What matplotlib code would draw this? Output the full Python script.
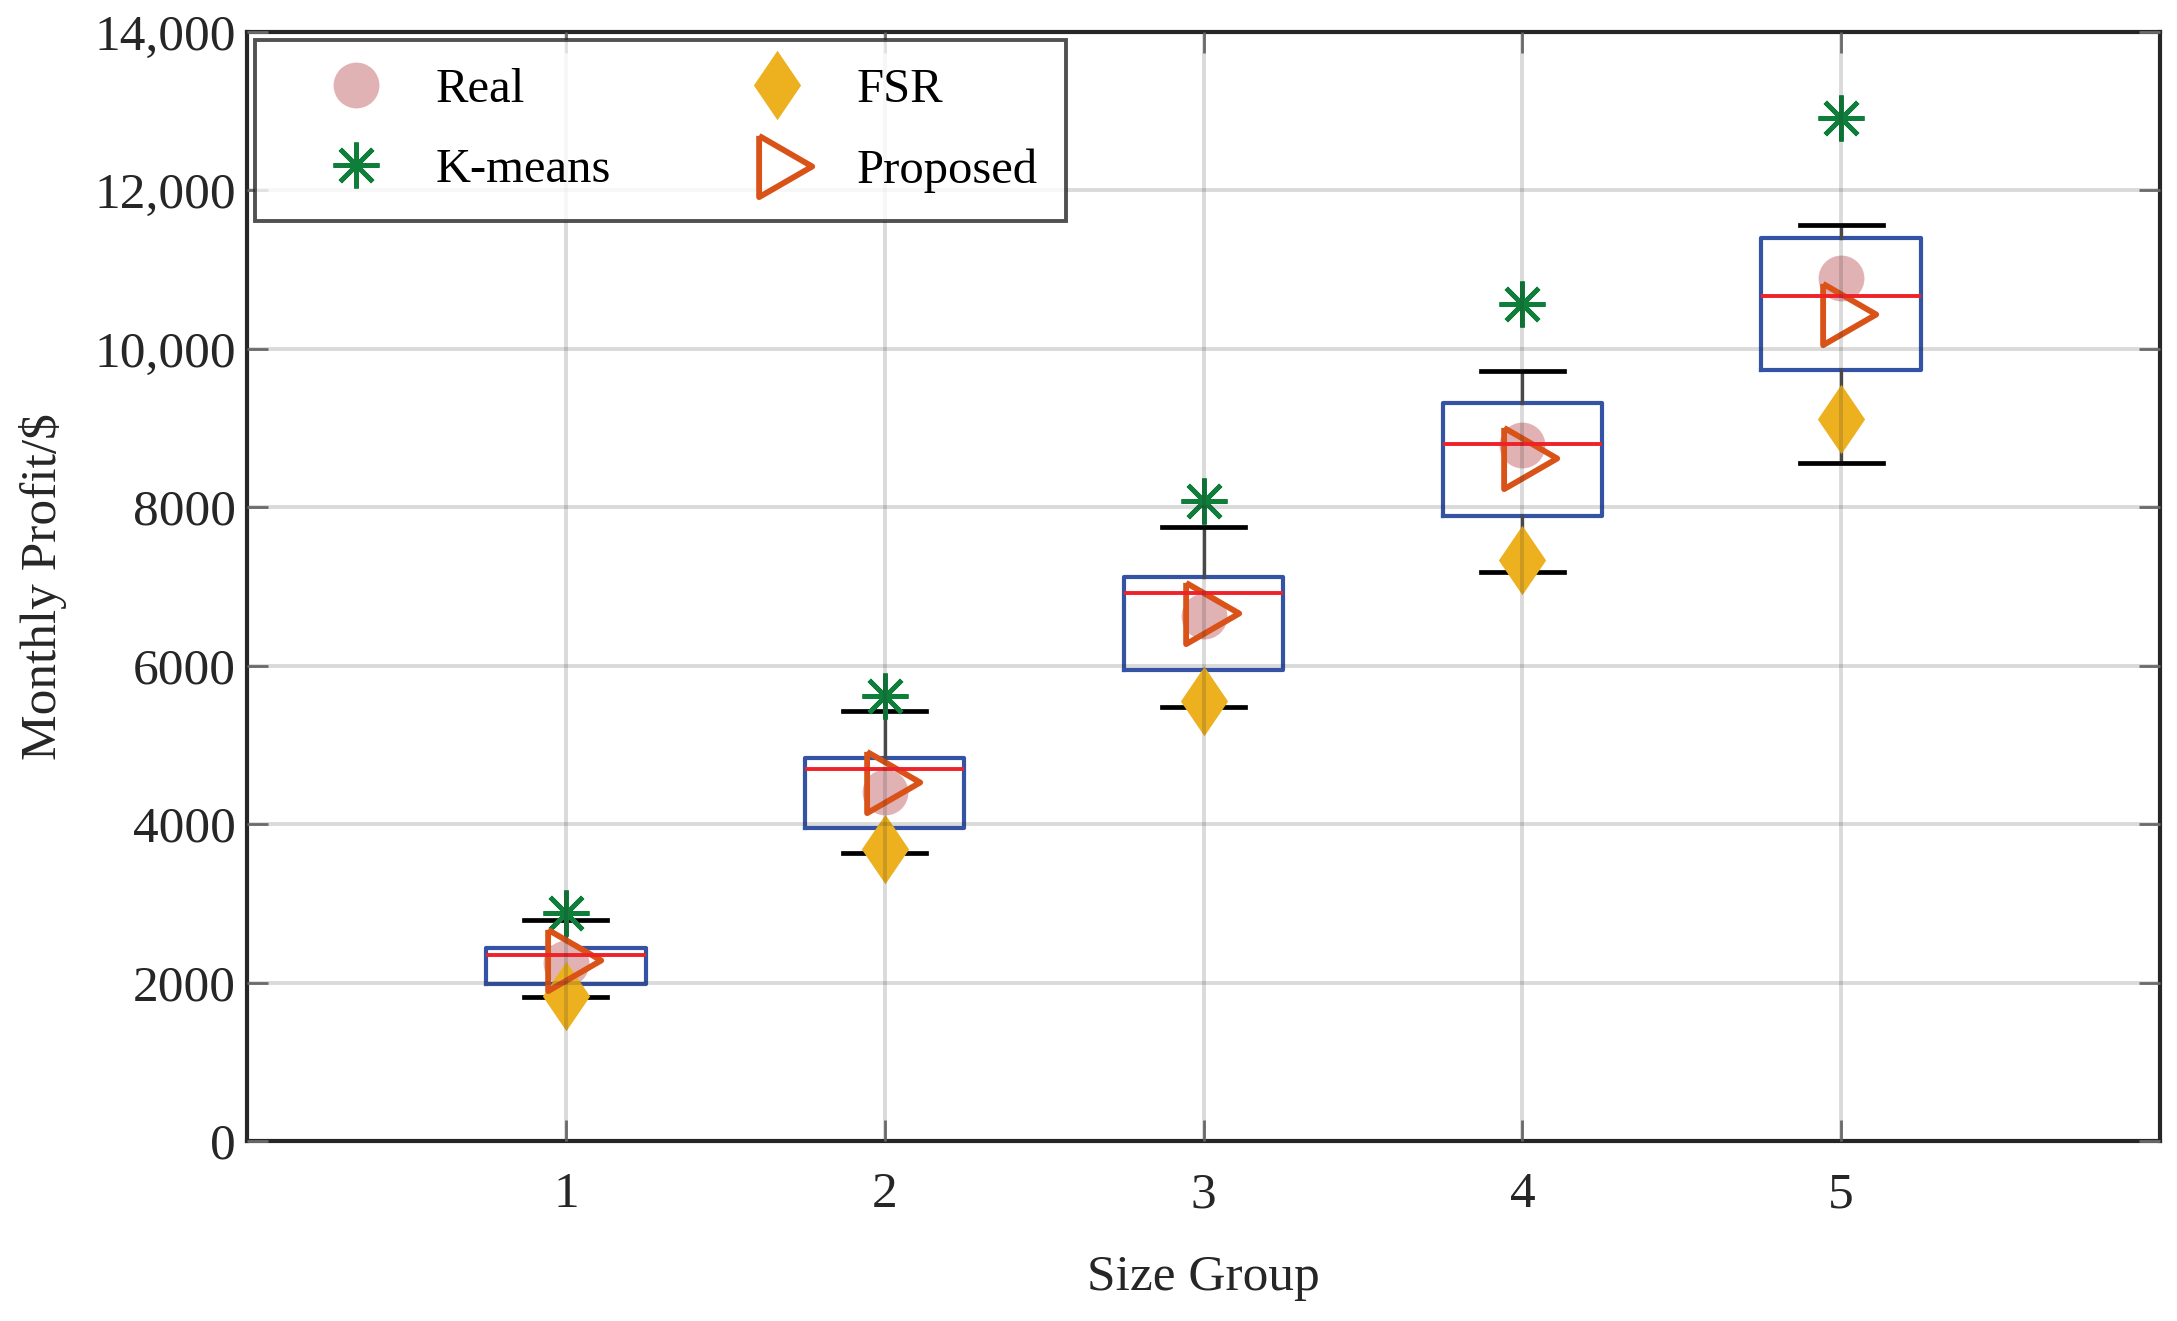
import matplotlib
matplotlib.use("Agg")
import matplotlib.pyplot as plt
import numpy as np

plt.rcParams['font.family'] = ['Liberation Serif', 'DejaVu Serif']

# DATA
groups = [1, 2, 3, 4, 5]
real = [2250, 4410, 6630, 8780, 10890]
kmeans = [2880, 5620, 8080, 10560, 12920]
fsr = [1830, 3690, 5560, 7330, 9110]
proposed = [2290, 4530, 6660, 8620, 10440]

# box statistics per group
q1 = [1980, 3945, 5940, 7890, 9730]
q3 = [2440, 4830, 7125, 9315, 11400]
med = [2350, 4695, 6915, 8795, 10670]
whislo = [1820, 3630, 5475, 7180, 8560]
whishi = [2790, 5430, 7745, 9725, 11565]

yticks = [0, 2000, 4000, 6000, 8000, 10000, 12000, 14000]
ytick_labels = ['0', '2000', '4000', '6000', '8000', '10,000', '12,000', '14,000']

FS = 37
dark = '#262626'

fig = plt.figure(figsize=(21.77, 13.21), dpi=100)
ax = fig.add_axes([0.1135, 0.1363, 0.8787, 0.8395])

stats = [dict(med=m, q1=a, q3=b, whislo=lo, whishi=hi, fliers=[])
         for m, a, b, lo, hi in zip(med, q1, q3, whislo, whishi)]
ax.bxp(stats, positions=groups, widths=0.5, capwidths=0.26,
       showfliers=False, manage_ticks=False,
       boxprops=dict(color='#3553A5', linewidth=3.0),
       medianprops=dict(color='#EE2229', linewidth=2.8),
       whiskerprops=dict(color='#505050', linewidth=2.4),
       capprops=dict(color='black', linewidth=3.4))

# markers
tri = [(-18, 30), (34, 0), (-18, -30), (-18, 30)]
dia = [(0, 1), (0.68, 0), (0, -1), (-0.68, 0), (0, 1)]
h1, = ax.plot(groups, real, 'o', ms=33, color='#E1B2B4', mec='none', label='Real')
h2, = ax.plot(groups, kmeans, marker=(8, 2, 0), ls='none', ms=33, mew=3.4,
              color='#0E7E3A', label='K-means')
h3, = ax.plot(groups, fsr, marker=dia, ls='none', ms=50, color='#EDB120',
              mec='none', label='FSR')
h4, = ax.plot(groups, proposed, marker=tri, ls='none', ms=50, mfc='none',
              mec='#D95319', mew=4.2, label='Proposed')

ax.set_xlim(0, 6)
ax.set_ylim(0, 14000)
ax.set_xticks(groups)
ax.set_yticks(yticks)
ax.set_yticklabels(ytick_labels)

ax.set_axisbelow(False)
ax.grid(True, color=dark, alpha=0.17, linewidth=2.8)
ax.tick_params(direction='in', length=15, width=2.0, color='#6a6a6a',
               top=True, right=True, labelsize=FS, labelcolor=dark)
ax.tick_params(axis='x', pad=22)
ax.tick_params(axis='y', pad=8)
for s in ax.spines.values():
    s.set_linewidth(3.0)
    s.set_color(dark)

ax.set_xlabel('Size Group', fontsize=FS, color=dark, labelpad=26)
ax.set_ylabel('Monthly Profit/$', fontsize=FS, color=dark, labelpad=20)

leg = ax.legend(handles=[h1, h2, h3, h4], ncol=2, loc='upper left',
                bbox_to_anchor=(0.004, 0.993), borderaxespad=0,
                fontsize=35, frameon=True, fancybox=False,
                handlelength=3.0, handletextpad=0.15, columnspacing=1.9,
                labelspacing=0.75, borderpad=0.58)
leg.get_frame().set_edgecolor(dark)
leg.get_frame().set_linewidth(2.8)
leg.set_zorder(10)

fig.savefig('out.png', dpi=100)
